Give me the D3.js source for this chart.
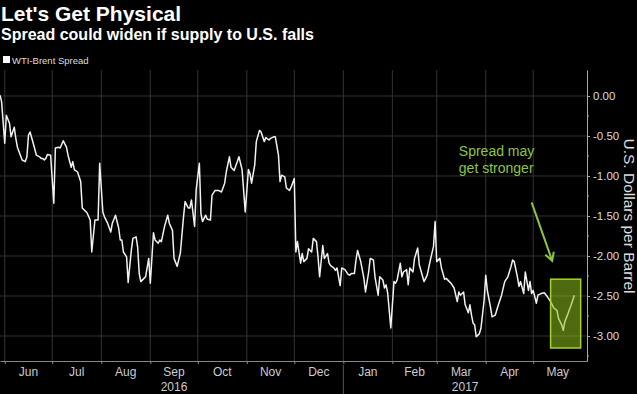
<!DOCTYPE html>
<html>
<head>
<meta charset="utf-8">
<script src="https://cdn.jsdelivr.net/npm/d3@7"></script>
<style>
  body { margin: 0; background: #000; }
  svg { display: block; font-family: "Liberation Sans", Arial, sans-serif; }
</style>
</head>
<body>
<script>
// WTI-Brent spread
const dates = [
  "2016-05-29","2016-05-30","2016-06-01","2016-06-02","2016-06-04","2016-06-05","2016-06-07","2016-06-08",
  "2016-06-09","2016-06-12","2016-06-14","2016-06-15","2016-06-16","2016-06-17","2016-06-19","2016-06-21",
  "2016-06-23","2016-06-24","2016-06-25","2016-06-26","2016-06-27","2016-06-28","2016-06-30","2016-07-02",
  "2016-07-03","2016-07-05","2016-07-06","2016-07-08","2016-07-10","2016-07-11","2016-07-13","2016-07-14",
  "2016-07-15","2016-07-17","2016-07-19","2016-07-20","2016-07-23","2016-07-25","2016-07-26","2016-07-28",
  "2016-07-30","2016-07-31","2016-08-02","2016-08-03","2016-08-05","2016-08-07","2016-08-08","2016-08-10",
  "2016-08-12","2016-08-13","2016-08-14","2016-08-15","2016-08-17","2016-08-18","2016-08-20","2016-08-21",
  "2016-08-23","2016-08-24","2016-08-25","2016-08-26","2016-08-28","2016-08-29","2016-08-31","2016-09-01",
  "2016-09-03","2016-09-04","2016-09-06","2016-09-07","2016-09-08","2016-09-10","2016-09-12","2016-09-13",
  "2016-09-15","2016-09-16","2016-09-18","2016-09-20","2016-09-22","2016-09-23","2016-09-25","2016-09-26",
  "2016-09-27","2016-09-29","2016-09-30","2016-10-02","2016-10-03","2016-10-04","2016-10-06","2016-10-07",
  "2016-10-09","2016-10-10","2016-10-12","2016-10-14","2016-10-16","2016-10-18","2016-10-19","2016-10-21",
  "2016-10-22","2016-10-24","2016-10-26","2016-10-27","2016-10-29","2016-10-31","2016-11-02","2016-11-03",
  "2016-11-04","2016-11-06","2016-11-07","2016-11-09","2016-11-10","2016-11-12","2016-11-13","2016-11-15",
  "2016-11-16","2016-11-18","2016-11-19","2016-11-21","2016-11-22","2016-11-23","2016-11-25","2016-11-26",
  "2016-11-28","2016-11-29","2016-12-01","2016-12-02","2016-12-03","2016-12-05","2016-12-06","2016-12-07",
  "2016-12-09","2016-12-10","2016-12-12","2016-12-13","2016-12-15","2016-12-16","2016-12-17","2016-12-19",
  "2016-12-20","2016-12-22","2016-12-23","2016-12-24","2016-12-26","2016-12-27","2016-12-28","2016-12-30",
  "2016-12-31","2017-01-02","2017-01-04","2017-01-05","2017-01-06","2017-01-08","2017-01-09","2017-01-10",
  "2017-01-12","2017-01-14","2017-01-15","2017-01-17","2017-01-18","2017-01-20","2017-01-21","2017-01-23",
  "2017-01-24","2017-01-26","2017-01-27","2017-01-28","2017-01-29","2017-01-31","2017-02-02","2017-02-03",
  "2017-02-04","2017-02-06","2017-02-07","2017-02-08","2017-02-10","2017-02-11","2017-02-12","2017-02-14",
  "2017-02-15","2017-02-17","2017-02-18","2017-02-21","2017-02-23","2017-02-25","2017-02-27","2017-02-28",
  "2017-03-01","2017-03-03","2017-03-04","2017-03-06","2017-03-07","2017-03-09","2017-03-10","2017-03-12",
  "2017-03-14","2017-03-15","2017-03-16","2017-03-18","2017-03-19","2017-03-21","2017-03-22","2017-03-23",
  "2017-03-24","2017-03-25","2017-03-26","2017-03-28","2017-03-29","2017-03-31","2017-04-01","2017-04-02",
  "2017-04-04","2017-04-05","2017-04-07","2017-04-09","2017-04-11","2017-04-13","2017-04-15","2017-04-17",
  "2017-04-18","2017-04-19","2017-04-21","2017-04-22","2017-04-23","2017-04-25","2017-04-26","2017-04-28",
  "2017-04-29","2017-04-30","2017-05-01","2017-05-03","2017-05-04","2017-05-06","2017-05-08","2017-05-10",
  "2017-05-12","2017-05-14","2017-05-16","2017-05-17","2017-05-19","2017-05-20","2017-05-21","2017-05-23",
  "2017-05-25","2017-05-27"
];
const spread = [
  0.01,-0.07,-0.59,-0.24,-0.34,-0.51,-0.39,-0.53,
  -0.64,-0.80,-0.82,-0.76,-0.49,-0.45,-0.59,-0.74,
  -0.76,-0.78,-0.78,-0.80,-0.78,-0.73,-0.74,-1.34,
  -0.65,-0.64,-0.65,-0.56,-0.64,-0.74,-0.89,-0.82,
  -0.92,-0.95,-1.07,-1.40,-1.46,-1.55,-1.95,-1.55,
  -1.55,-0.84,-1.45,-1.51,-1.59,-1.70,-1.59,-1.49,
  -1.65,-1.80,-1.80,-1.95,-2.01,-2.33,-1.93,-1.78,
  -1.76,-1.89,-2.22,-2.32,-2.28,-2.26,-2.03,-2.34,
  -1.71,-1.80,-1.84,-1.80,-1.82,-1.63,-1.49,-1.59,
  -1.68,-2.03,-2.13,-1.96,-1.51,-1.32,-1.40,-1.40,
  -1.30,-1.63,-1.17,-0.84,-1.47,-1.57,-1.49,-1.54,
  -1.55,-1.24,-1.18,-1.18,-1.20,-1.09,-0.95,-0.76,
  -0.89,-0.93,-0.82,-0.76,-0.92,-1.45,-0.92,-0.97,
  -1.09,-0.86,-0.57,-0.43,-0.45,-0.57,-0.52,-0.55,
  -0.53,-0.51,-0.51,-0.74,-1.07,-0.99,-1.01,-1.15,
  -1.18,-1.14,-1.03,-1.95,-1.82,-2.09,-1.97,-2.07,
  -2.03,-1.91,-1.95,-1.78,-1.82,-2.01,-2.26,-1.87,
  -2.03,-1.97,-2.09,-2.12,-2.15,-2.18,-2.15,-2.37,
  -2.15,-2.17,-2.23,-2.24,-2.22,-2.22,-2.05,-1.93,
  -2.07,-2.28,-2.45,-2.20,-2.03,-2.05,-2.26,-2.49,
  -2.26,-2.30,-2.40,-2.36,-2.46,-2.90,-2.32,-2.34,
  -2.30,-2.09,-2.26,-2.20,-2.17,-2.36,-2.15,-2.20,
  -2.03,-1.90,-2.11,-2.32,-2.24,-2.05,-1.88,-1.57,
  -2.07,-2.03,-2.15,-2.29,-2.28,-2.32,-2.34,-2.40,
  -2.57,-2.45,-2.49,-2.45,-2.61,-2.71,-2.61,-2.74,
  -2.84,-2.86,-3.01,-2.97,-2.90,-2.55,-2.24,-2.43,
  -2.64,-2.76,-2.74,-2.61,-2.49,-2.32,-2.26,-2.13,
  -2.05,-2.07,-2.26,-2.38,-2.32,-2.47,-2.20,-2.43,
  -2.32,-2.47,-2.43,-2.59,-2.49,-2.47,-2.46,-2.51,
  -2.57,-2.65,-2.68,-2.78,-2.86,-2.93,-2.82,-2.72,
  -2.61,-2.49
];
const monthLabels = ["Jun", "Jul", "Aug", "Sep", "Oct", "Nov", "Dec", "Jan", "Feb", "Mar", "Apr", "May"];
const yearLabels = ["2016", "2017"];
const yTicks = [0, -0.5, -1, -1.5, -2, -2.5, -3];
const yMinorTicks = [-0.25, -0.75, -1.25, -1.75, -2.25, -2.75, -3.25];

const parse = d3.timeParse("%Y-%m-%d");
const data = dates.map((d, i) => ({ date: parse(d), value: spread[i] }));

const width = 637;
const height = 394;
const plot = { left: 0, right: 587, top: 70, bottom: 361 };
const green = "#8cc63f";

const svg = d3.select("body").append("svg").attr("width", width).attr("height", height);
svg.append("rect").attr("width", width).attr("height", height).attr("fill", "#000");

const x = d3.scaleTime()
  .domain([parse("2016-05-29"), parse("2017-06-04")])
  .range([plot.left, plot.right]);
const y = d3.scaleLinear().domain([-3.3125, 0.325]).range([plot.bottom, plot.top]);

const months = d3.timeMonth.range(parse("2016-06-01"), parse("2017-06-01"));

// grid
svg.append("g").selectAll("line").data(months).join("line")
  .attr("x1", (d) => x(d)).attr("x2", (d) => x(d))
  .attr("y1", plot.top).attr("y2", plot.bottom)
  .attr("stroke", "#333").attr("stroke-width", 1);
svg.append("g").selectAll("line").data(yTicks).join("line")
  .attr("x1", plot.left).attr("x2", plot.right)
  .attr("y1", (d) => y(d)).attr("y2", (d) => y(d))
  .attr("stroke", "#333").attr("stroke-width", 1);

// bottom axis
const xAxis = d3.axisBottom(x).tickValues(months).tickSize(3).tickSizeOuter(0).tickFormat("");
const gx = svg.append("g").attr("transform", `translate(0,${plot.bottom})`).call(xAxis);
gx.selectAll("path, line").attr("stroke", "#888");

svg.append("g").selectAll("text").data(months).join("text")
  .attr("x", (d) => (x(d) + x(d3.timeMonth.offset(d, 1))) / 2)
  .attr("y", 376)
  .attr("text-anchor", "middle")
  .attr("font-size", "12px")
  .attr("fill", "#ccc")
  .text((d, i) => monthLabels[i]);

const yearSplit = parse("2017-01-01");
const yearSpans = [[months[0], yearSplit], [yearSplit, x.domain()[1]]];
svg.append("g").selectAll("text").data(yearSpans).join("text")
  .attr("x", (d) => (x(d[0]) + x(d[1])) / 2)
  .attr("y", 391)
  .attr("text-anchor", "middle")
  .attr("font-size", "12px")
  .attr("fill", "#ccc")
  .text((d, i) => yearLabels[i]);
svg.append("line")
  .attr("x1", x(yearSplit)).attr("x2", x(yearSplit))
  .attr("y1", 365).attr("y2", height)
  .attr("stroke", "#555");

// right axis
const yAxis = d3.axisRight(y).tickValues(yTicks).tickSize(3).tickSizeOuter(0).tickPadding(3)
  .tickFormat((d) => d3.format(".2f")(d).replace("\u2212", "-"));
const gy = svg.append("g").attr("transform", `translate(${plot.right},0)`).call(yAxis);
gy.selectAll("path, line").attr("stroke", "#aaa");
gy.selectAll("text").attr("fill", "#ddd").attr("font-size", "11.5px")
  .attr("font-family", "\"Liberation Sans\", Arial, sans-serif");
gy.append("g").selectAll("line").data(yMinorTicks).join("line")
  .attr("x1", 0).attr("x2", 2)
  .attr("y1", (d) => y(d)).attr("y2", (d) => y(d))
  .attr("stroke", "#aaa");

svg.append("text")
  .attr("transform", `translate(624,${y(-1.5)}) rotate(90)`)
  .attr("text-anchor", "middle")
  .attr("font-size", "15.5px")
  .attr("fill", "#ddd")
  .text("U.S. Dollars per Barrel");

// line
const line = d3.line().x((d) => x(d.date)).y((d) => y(d.value));
svg.append("path")
  .datum(data)
  .attr("d", line)
  .attr("fill", "none")
  .attr("stroke", "#f2f2f2")
  .attr("stroke-width", 1.5)
  .attr("stroke-linejoin", "round");

// highlight box, drawn over the line so it tints it
const box = { from: parse("2017-05-12"), to: parse("2017-05-31"), top: -2.29, bottom: -3.15 };
svg.append("rect")
  .attr("x", x(box.from))
  .attr("y", y(box.top))
  .attr("width", x(box.to) - x(box.from))
  .attr("height", y(box.bottom) - y(box.top))
  .attr("fill", "#8fc01c").attr("fill-opacity", 0.55)
  .attr("stroke", "#a5d22e").attr("stroke-width", 1.5);

// annotation
svg.append("defs").append("marker")
  .attr("id", "arrow")
  .attr("viewBox", "-10 -6 12 12")
  .attr("markerWidth", 12).attr("markerHeight", 12)
  .attr("markerUnits", "userSpaceOnUse")
  .attr("orient", "auto")
  .append("path")
  .attr("d", "M-8,-4.5L0,0L-8,4.5")
  .attr("fill", "none").attr("stroke", green).attr("stroke-width", 2);

svg.append("line")
  .attr("x1", x(parse("2017-04-30"))).attr("y1", y(-1.33))
  .attr("x2", x(parse("2017-05-13"))).attr("y2", y(-2.06))
  .attr("stroke", green).attr("stroke-width", 2)
  .attr("marker-end", "url(#arrow)");

const note = svg.append("text")
  .attr("font-size", "14px")
  .attr("fill", green);
note.append("tspan").attr("x", x(parse("2017-03-15"))).attr("y", y(-0.75)).text("Spread may");
note.append("tspan").attr("x", x(parse("2017-03-15"))).attr("y", y(-0.96)).text("get stronger");

// title, subtitle, legend
svg.append("text").attr("x", 1).attr("y", 21)
  .attr("font-size", "21px").attr("font-weight", "bold").attr("fill", "#fff")
  .text("Let's Get Physical");
svg.append("text").attr("x", 1).attr("y", 40)
  .attr("font-size", "16px").attr("font-weight", "bold").attr("fill", "#fff")
  .text("Spread could widen if supply to U.S. falls");
svg.append("rect").attr("x", 3).attr("y", 56).attr("width", 7).attr("height", 7).attr("fill", "#fff");
svg.append("text").attr("x", 12).attr("y", 64)
  .attr("font-size", "9.5px").attr("fill", "#ddd")
  .text("WTI-Brent Spread");
</script>
</body>
</html>
